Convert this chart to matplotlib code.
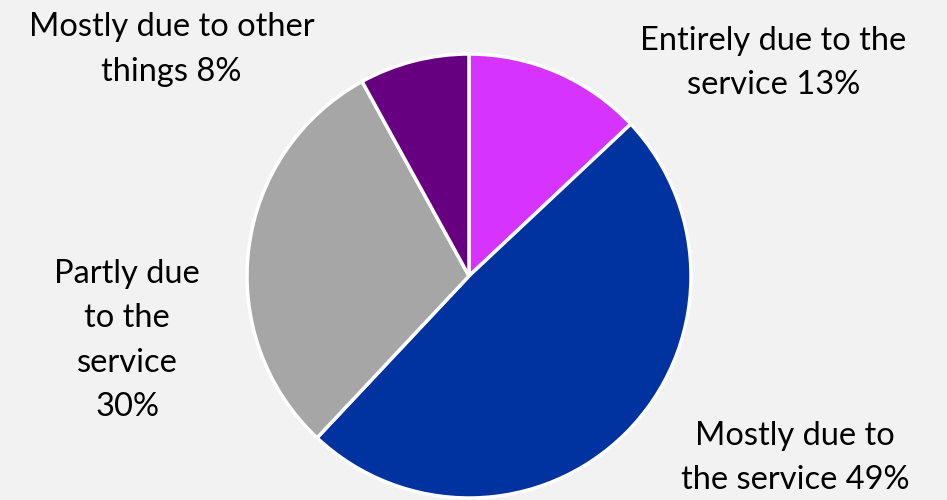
import matplotlib.pyplot as plt

# Share of outcome attributed to the service
labels = ['Entirely due to the\nservice', 'Mostly due to\nthe service',
          'Partly due\nto the\nservice\n', 'Mostly due to other\nthings']
values = [13, 49, 30, 8]
colors = ['#d633ff', '#0033a0', '#a6a6a6', '#660080']

# label text centres (pie units: centre 0,0, radius 1)
label_pos = [(1.37, 0.96), (1.47, -0.82), (-1.54, -0.29), (-1.34, 1.02)]

fig = plt.figure(figsize=(9.47, 5.0), dpi=100)
fig.patch.set_facecolor('#f2f2f2')
ax = fig.add_axes([0, 0, 1, 1])
ax.set_facecolor('#f2f2f2')

ax.pie(values, colors=colors, startangle=90, counterclock=False, radius=1.0,
       wedgeprops=dict(edgecolor='white', linewidth=2.5))

for lab, v, (x, y) in zip(labels, values, label_pos):
    txt = lab + ('' if lab.endswith('\n') else ' ') + f'{v}%'
    ax.text(x, y, txt, ha='center', va='center', fontsize=23.5,
            family='Lato', linespacing=1.6, color='black')

ax.set_xlim(-469 / 222, 478 / 222)
ax.set_ylim(-224 / 222, 276 / 222)
ax.set_aspect('equal')
ax.axis('off')

fig.savefig('out.png', dpi=100, facecolor=fig.get_facecolor())
